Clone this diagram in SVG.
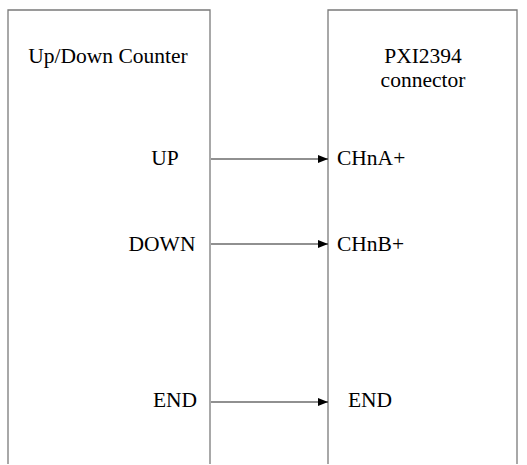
<svg xmlns="http://www.w3.org/2000/svg" width="527" height="465" viewBox="0 0 527 465">
<style>
.box{fill:none;stroke:#7a7a7a;stroke-width:1.3}
.t{font-family:"Liberation Serif","Times New Roman",serif;font-size:21.5px;fill:#000}
.w{stroke:#222;stroke-width:1.1;fill:none;marker-end:url(#ah)}
</style>
<defs>
<marker id="ah" markerWidth="10" markerHeight="8" refX="10" refY="4" orient="auto" markerUnits="userSpaceOnUse">
<path d="M0,0 L10,4 L0,8 Z" fill="#000"/>
</marker>
</defs>
<g id="counter">
<path class="box" d="M8,464 V10 H210 V464"/>
<text class="t" x="108" y="63" text-anchor="middle">Up/Down Counter</text>
<text class="t" x="165" y="165" text-anchor="middle">UP</text>
<text class="t" x="162" y="251" text-anchor="middle">DOWN</text>
<text class="t" x="175" y="407" text-anchor="middle">END</text>
</g>
<g id="pxi">
<path class="box" d="M328,464 V10 H517 V464"/>
<text class="t" x="423" y="63" text-anchor="middle">PXI2394</text>
<text class="t" x="423" y="87" text-anchor="middle">connector</text>
<text class="t" x="337" y="165">CHnA+</text>
<text class="t" x="337" y="251">CHnB+</text>
<text class="t" x="370" y="407" text-anchor="middle">END</text>
</g>
<g id="connectors">
<line class="w" x1="211" y1="159" x2="328" y2="159"/>
<line class="w" x1="211" y1="244" x2="328" y2="244"/>
<line class="w" x1="211" y1="402" x2="328" y2="402"/>
</g>
</svg>
